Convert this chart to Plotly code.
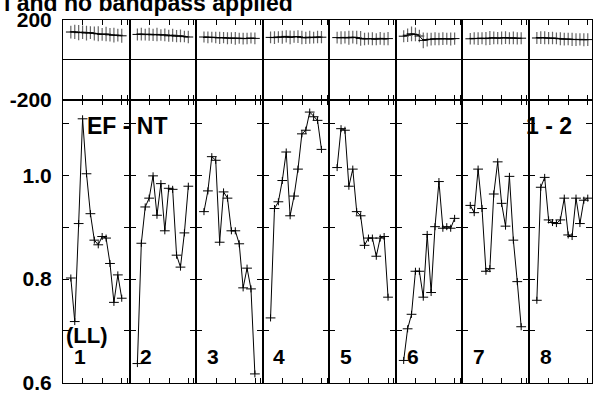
import plotly.graph_objects as go
from plotly.subplots import make_subplots

# Channel numbers within each IF
channels = list(range(1, 15))

# Amplitude per channel, IF 1..8
amp_if1 = [0.802, 0.718, 0.907, 1.109, 1.003, 0.926, 0.875, 0.866, 0.882, 0.879, 0.830, 0.755, 0.808, 0.763]
amp_if2 = [0.637, 0.869, 0.939, 0.956, 0.999, 0.923, 0.984, 0.893, 0.975, 0.973, 0.846, 0.823, 0.889, 0.979]
amp_if3 = [0.930, 0.970, 1.036, 1.029, 0.871, 0.968, 0.956, 0.893, 0.893, 0.868, 0.783, 0.821, 0.781, 0.617]
amp_if4 = [0.725, 0.936, 0.949, 0.990, 1.045, 0.922, 0.960, 1.012, 1.080, 1.087, 1.122, 1.113, 1.106, 1.050]
amp_if5 = [1.015, 1.090, 1.087, 0.979, 1.012, 0.930, 0.922, 0.865, 0.879, 0.879, 0.844, 0.879, 0.882, 0.765]
amp_if6 = [0.643, 0.704, 0.732, 0.815, 0.815, 0.765, 0.886, 0.774, 0.901, 0.988, 0.898, 0.901, 0.898, 0.917]
amp_if7 = [0.942, 0.928, 1.012, 0.936, 0.815, 0.820, 0.964, 1.026, 0.946, 0.902, 0.998, 0.875, 0.795, 0.708]
amp_if8 = [0.759, 0.977, 0.996, 0.914, 0.909, 0.907, 0.914, 0.956, 0.885, 0.882, 0.956, 0.907, 0.952, 0.956]

# Phase (degrees) per channel, IF 1..8
phase_if1 = [140, 141, 137, 139, 135, 137, 133, 131, 128, 130, 126, 124, 124, 121]
phase_if2 = [128, 130, 127, 129, 126, 128, 125, 126, 121, 124, 119, 121, 117, 115]
phase_if3 = [115, 113, 114, 112, 111, 112, 109, 110, 108, 109, 107, 108, 110, 108]
phase_if4 = [113, 112, 115, 114, 118, 113, 116, 117, 113, 111, 114, 112, 115, 114]
phase_if5 = [112, 111, 113, 111, 114, 112, 108, 105, 107, 106, 104, 108, 105, 107]
phase_if6 = [119, 124, 131, 128, 120, 98, 102, 104, 106, 105, 107, 106, 105, 107]
phase_if7 = [106, 108, 107, 109, 107, 110, 111, 109, 110, 112, 109, 111, 108, 109]
phase_if8 = [110, 112, 111, 109, 110, 108, 106, 104, 105, 103, 102, 103, 101, 102]

# Phase uncertainty (degrees) per channel
phase_err_if1 = [32, 36, 38, 34, 37, 32, 35, 38, 32, 36, 34, 37, 32, 35]
phase_err_if2 = [30, 32, 29, 33, 31, 34, 29, 32, 30, 33, 31, 32, 29, 31]
phase_err_if3 = [28, 30, 27, 29, 31, 28, 30, 29, 32, 28, 30, 29, 28, 30]
phase_err_if4 = [30, 32, 29, 33, 31, 35, 30, 32, 34, 31, 33, 30, 32, 31]
phase_err_if5 = [30, 33, 31, 35, 32, 34, 37, 32, 31, 33, 30, 32, 31, 33]
phase_err_if6 = [30, 34, 37, 35, 32, 40, 35, 32, 33, 31, 32, 30, 33, 31]
phase_err_if7 = [29, 31, 32, 30, 33, 35, 32, 31, 33, 32, 30, 32, 31, 30]
phase_err_if8 = [30, 32, 33, 31, 32, 30, 33, 32, 31, 33, 32, 31, 33, 32]

if_labels = ["1", "2", "3", "4", "5", "6", "7", "8"]
amp_ticks = [0.6, 0.7, 0.8, 0.9, 1.0, 1.1]
amp_ticktext = ["0.6", "", "0.8", "", "1.0", ""]
phase_ticks = [-200, 200]
phase_ticktext = ["-200", "200"]
freq_ticks = [4.1, 9.1, 14.05, 15.45]

amps = [amp_if1, amp_if2, amp_if3, amp_if4, amp_if5, amp_if6, amp_if7, amp_if8]
phases = [phase_if1, phase_if2, phase_if3, phase_if4, phase_if5, phase_if6, phase_if7, phase_if8]
phase_errs = [phase_err_if1, phase_err_if2, phase_err_if3, phase_err_if4,
              phase_err_if5, phase_err_if6, phase_err_if7, phase_err_if8]

FONT = "Liberation Sans, Arial, Helvetica, sans-serif"

# Page geometry (pixels)
FIG_W, FIG_H = 593, 394
M_L, M_R, M_T, M_B = 63, 0, 19.5, 8
PLOT_W = FIG_W - M_L - M_R
PLOT_H = FIG_H - M_T - M_B
PANEL_PX = 66.7
PHASE_PX = 80.5
X_LO, X_HI = -1.0, 16.0
PX_PER_CH = PANEL_PX / (X_HI - X_LO)

fig = make_subplots(rows=2, cols=8, horizontal_spacing=0, vertical_spacing=0,
                    row_heights=[PHASE_PX / PLOT_H, 1 - PHASE_PX / PLOT_H])

for i in range(8):
    col = i + 1
    # phase
    fig.add_trace(go.Scatter(
        x=channels, y=phases[i], mode="lines",
        line=dict(color="black", width=1),
        error_y=dict(type="data", array=phase_errs[i], visible=True,
                     color="#666666", thickness=1.2, width=0),
        error_x=dict(type="constant", value=1.25, visible=True,
                     color="black", thickness=1, width=0),
        showlegend=False, hoverinfo="skip"), row=1, col=col)
    # amplitude
    fig.add_trace(go.Scatter(
        x=channels, y=amps[i], mode="lines",
        line=dict(color="black", width=1),
        error_y=dict(type="constant", value=0.0068, visible=True,
                     color="black", thickness=1, width=0),
        error_x=dict(type="constant", value=1.25, visible=True,
                     color="black", thickness=1, width=0),
        showlegend=False, hoverinfo="skip"), row=2, col=col)

tickfont = dict(family=FONT, size=21, color="black", weight="bold")
pw = PANEL_PX / PLOT_W
for i in range(8):
    col = i + 1
    x0 = i * pw
    x1 = min((i + 1) * pw, 1.0)
    x_hi = X_LO + (x1 - x0) * PLOT_W / PX_PER_CH
    xcommon = dict(domain=[x0, x1], range=[X_LO, x_hi], showline=True, linecolor="black",
                   linewidth=1, mirror="ticks", ticks="inside", ticklen=5, tickwidth=1,
                   tickcolor="black", tickvals=freq_ticks, showticklabels=False,
                   showgrid=False, zeroline=False, fixedrange=True)
    fig.update_xaxes(row=1, col=col, **xcommon)
    fig.update_xaxes(row=2, col=col, **xcommon)
    fig.update_yaxes(row=2, col=col, range=[0.5995, 1.1458], showline=True, linecolor="black",
                     linewidth=1, mirror="ticks", ticks="inside", ticklen=6, tickwidth=1,
                     tickcolor="black", tickvals=amp_ticks, ticktext=amp_ticktext,
                     showticklabels=(i == 0), tickfont=tickfont, ticklabelstandoff=6,
                     ticklabeloverflow="allow", showgrid=False, zeroline=False)
    fig.update_yaxes(row=1, col=col, range=[-200.5, 200.5], showline=True, linecolor="black",
                     linewidth=1, mirror=True, ticks="", tickvals=phase_ticks,
                     ticktext=phase_ticktext, showticklabels=(i == 0), tickfont=tickfont,
                     ticklabelstandoff=6, ticklabeloverflow="allow", showgrid=False,
                     zeroline=True, zerolinecolor="black", zerolinewidth=1)


def px_x(px):
    return (px - M_L) / PLOT_W


def px_y(py):
    return (FIG_H - M_B - py) / PLOT_H


annotations = [
    dict(text="l and no bandpass applied", x=px_x(295), y=px_y(2.0), xanchor="right",
         yanchor="middle", font=dict(size=23)),
    dict(text="EF - NT", x=px_x(85.5), y=px_y(126.7), xanchor="left", yanchor="middle",
         font=dict(size=23)),
    dict(text="1 - 2", x=px_x(524.5), y=px_y(126.5), xanchor="left", yanchor="middle",
         font=dict(size=23)),
    dict(text="(LL)", x=px_x(64.5), y=px_y(338), xanchor="left", yanchor="middle",
         font=dict(size=22)),
]
for i, lab in enumerate(if_labels):
    annotations.append(dict(text=lab, x=i * pw + 8.7 / PLOT_W, y=px_y(359.2),
                            xanchor="left", yanchor="middle", font=dict(size=21)))
for a in annotations:
    a.update(xref="paper", yref="paper", showarrow=False)
    a["font"].update(family=FONT, color="black", weight="bold")

fig.update_layout(
    width=FIG_W, height=FIG_H,
    margin=dict(l=M_L, r=M_R, t=M_T, b=M_B, pad=0),
    paper_bgcolor="white", plot_bgcolor="white",
    annotations=annotations,
    showlegend=False,
)

fig.write_html("out.html", config={"displayModeBar": False})
